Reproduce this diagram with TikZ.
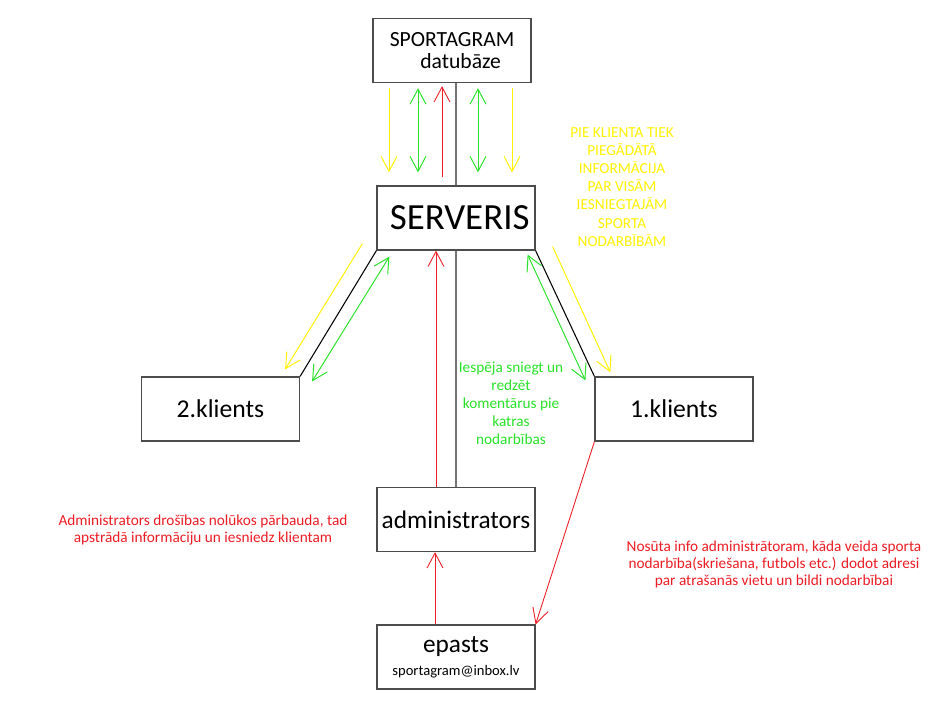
\documentclass[tikz,border=0pt]{standalone}
\usepackage{fontspec}
\setmainfont{Carlito}
\usepackage{tikz}
\usetikzlibrary{arrows.meta,calc}

\definecolor{ylw}{RGB}{255,242,0}
\definecolor{grn}{RGB}{40,225,40}
\definecolor{rd}{RGB}{237,28,36}

\tikzset{
  box/.style={draw=black!70, line width=0.7pt, minimum width=3.16cm, minimum height=1.28cm, inner sep=0pt, align=center},
  conn/.style={draw=black!55, line width=0.7pt},
  tip/.style={-{Straight Barb[length=8.5pt,width=9pt]}},
  tips/.style={{Straight Barb[length=8.5pt,width=9pt]}-{Straight Barb[length=8.5pt,width=9pt]}},
  ylwarr/.style={ylw, line width=0.55pt, tip},
  grnarr/.style={grn, line width=0.55pt, tips},
  rdarr/.style={rd, line width=0.5pt, tip},
  note/.style={align=center, font=\fontsize{8.7}{10.3}\selectfont}
}

\begin{document}
\begin{tikzpicture}[x=0.02cm, y=-0.02cm]
\useasboundingbox (0,0) rectangle (943,702);

% boxes
\node[box, font=\fontsize{12.3}{12.5}\selectfont] (db) at (452,50.5) {SPORTAGRAM\\ \hspace*{0.8em}datub\={a}ze};
\node[box, font=\fontsize{21}{21}\selectfont] (srv) at (456,218) {\hspace*{0.2em}SERVERIS};
\node[box, font=\fontsize{14.6}{15}\selectfont] (kl2) at (220.5,409) {2.klients};
\node[box, font=\fontsize{14.6}{15}\selectfont] (kl1) at (674,409) {1.klients};
\node[box, font=\fontsize{14.4}{15}\selectfont] (adm) at (456,519.5) {administrators};
\node[box, font=\fontsize{14.4}{12}\selectfont] (ep) at (456,657) {epasts\\[1pt] \fontsize{8.3}{10}\selectfont sportagram@inbox.lv};

% lines
\draw[conn] (srv.north) -- (srv.north |- db.south);
\draw[conn] (srv) -- (adm);
\draw[black, line width=0.6pt] (srv.south west) -- (kl2.north east);
\draw[black, line width=0.6pt] (srv.south east) -- (kl1.north west);

% datubaze <-> serveris
\draw[ylwarr] ($(db.south)+(-63,5)$) -- ($(srv.north)+(-67,-13)$);
\draw[grnarr] ($(db.south)+(-34,5)$) -- ($(srv.north)+(-38,-13)$);
\draw[rdarr] ($(srv.north)+(-14,-8)$) -- ($(db.south)+(-10,3)$);
\draw[grnarr] ($(db.south)+(26,5)$) -- ($(srv.north)+(22,-13)$);
\draw[ylwarr] ($(db.south)+(60,5)$) -- ($(srv.north)+(56,-13)$);

% serveris <-> klienti
\draw[ylwarr] ($(srv.south west)+(-14,-7)$) -- ($(kl2.north east)+(-15,-7)$);
\draw[grnarr] ($(srv.south west)+(13,6)$) -- ($(kl2.north east)+(12,5)$);
\draw[grnarr] ($(srv.south east)+(-8,4)$) -- ($(kl1.north west)+(-9,4)$);
\draw[ylwarr] ($(srv.south east)+(17,-4)$) -- ($(kl1.north west)+(16,-4)$);

% administrators, epasts
\draw[rdarr] ($(adm.north)+(-20,0)$) -- ($(srv.south)+(-20,0)$);
\draw[rdarr] ($(ep.north)+(-21,0)$) -- ($(adm.south)+(-21,0)$);
\draw[rdarr] (kl1.south west) -- (ep.north east);

% notes
\node[note, text=ylw] (infoklients) at (622,187) {PIE KLIENTA TIEK\\ PIEG\={A}D\={A}T\={A}\\ INFORM\={A}CIJA\\ PAR VIS\={A}M\\ IESNIEGTAJ\={A}M\\ SPORTA\\ NODARB\={I}B\={A}M};
\node[note, text=grn] (komentari) at (511,403) {Iesp\={e}ja sniegt un\\ redz\={e}t\\ koment\={a}rus pie\\ katras\\ nodarb\={\i}bas};
\node[note, text=rd, font=\fontsize{8.7}{9.7}\selectfont] (infoadm) at (203,530) {Administrators dro\v{s}\={\i}bas nol\={u}kos p\={a}rbauda, tad\\ apstr\={a}d\={a} inform\={a}ciju un iesniedz klientam};
\node[note, text=rd, font=\fontsize{8.7}{9.7}\selectfont] (infoep) at (774,564) {Nos\={u}ta info administr\={a}toram, k\={a}da veida sporta\\ nodarb\={\i}ba(skrie\v{s}ana, futbols etc.) dodot adresi\\ par atra\v{s}an\={a}s vietu un bildi nodarb\={\i}bai};
\end{tikzpicture}
\end{document}
